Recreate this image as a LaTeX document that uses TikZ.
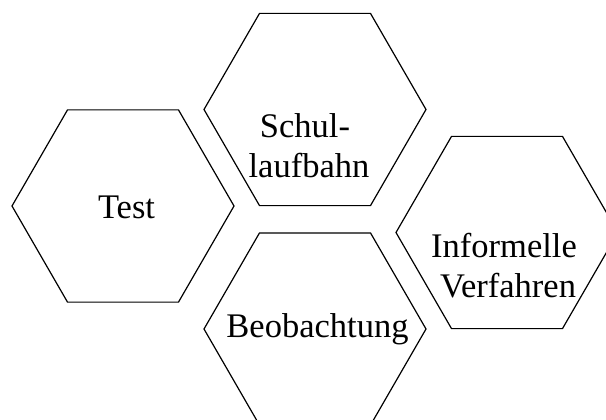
\documentclass[tikz,border=0pt]{standalone}
\usepackage{fontspec}
\setmainfont{Liberation Serif}
\begin{document}
\begin{tikzpicture}[x=1pt,y=-1pt,
  hexline/.style={draw=black,line width=1.2pt,line join=miter},
  lbl/.style={font=\fontsize{34.5}{40}\selectfont,inner sep=0pt,align=center,anchor=base}]
\useasboundingbox (0,0) rectangle (606,420);
\clip (0,0) rectangle (606,420);
% hexagon centres
\coordinate (c1) at (123,206);
\coordinate (c2) at (315,109.5);
\coordinate (c3) at (315,329);
\coordinate (c4) at (507,232.5);
\foreach \c in {c1,c2,c3,c4}{
  \draw[hexline] (\c) ++(111,0) -- ++(-55.5,-96.1) -- ++(-111,0) -- ++(-55.5,96.1)
    -- ++(55.5,96.1) -- ++(111,0) -- cycle;
}
\node[lbl] (test) at (126.5,218) {Test};
\node[lbl] (schul) at (309,178) {Schul-\hspace*{8pt}\\laufbahn};
\node[lbl] (beob) at (317.5,337) {Beobachtung};
\node[lbl] (inform) at (508,297) {Informelle\hspace*{8pt}\\Verfahren};
\end{tikzpicture}
\end{document}
